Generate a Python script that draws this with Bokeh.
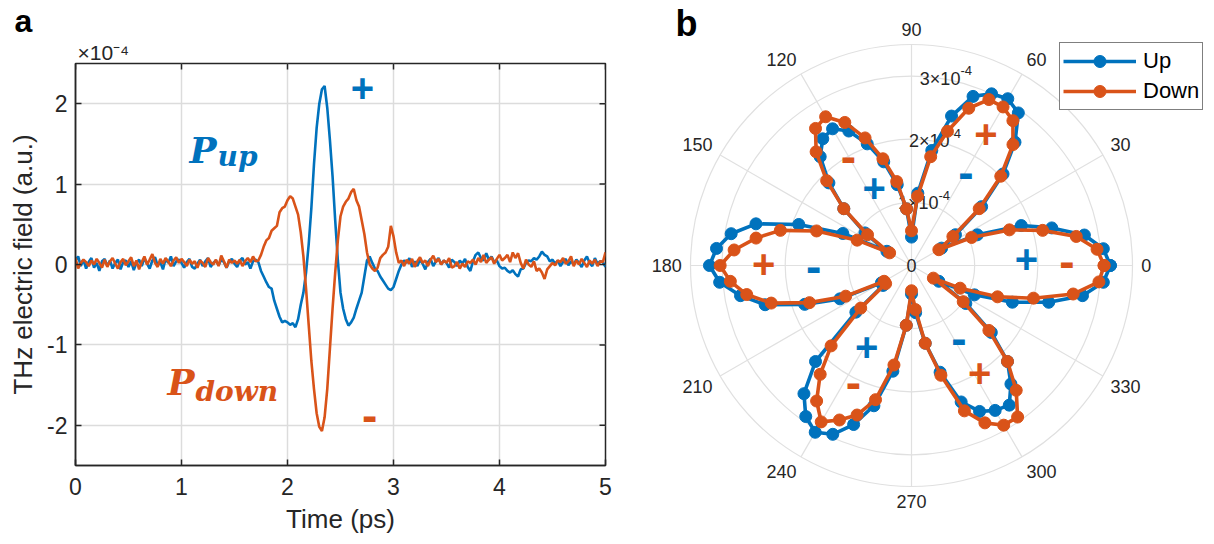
import numpy as np
from bokeh.plotting import figure
from bokeh.layouts import row
from bokeh.models import Label, FixedTicker, Legend, LegendItem, Range1d, Title
from bokeh.embed import file_html
from bokeh.resources import INLINE
from bokeh.core.properties import value

BLUE = "#0072BD"
ORANGE = "#D95319"
DARK = "#262626"
GRID = "#dcdcdc"
SANS = "Liberation Sans"
SERIF = "DejaVu Serif"

# ---------------- panel a : THz field (x1e-4) vs time ----------------
time_step_ps = 0.025
up_field = [
    0.05, 0.10, -0.02, 0.06, -0.05, 0.03, 0.08, -0.04, 0.02, -0.08, 0.04, 0.07, -0.02, 0.05, -0.05, 0.02, 0.06, -0.06, 0.03, 0.05,
    -0.03, 0.04, -0.07, 0.02, 0.06, -0.02, 0.08, 0.01, -0.05, 0.05, 0.09, -0.01, 0.03, -0.06, 0.07, 0.02, 0.10, -0.02, 0.04, 0.06,
    0.02, -0.04, 0.03, 0.07, -0.03, -0.05, 0.01, 0.06, -0.02, 0.04, 0.08, -0.03, 0.02, 0.05, -0.01, 0.06, 0.03, -0.04, 0.04, 0.07,
    0.01, -0.03, 0.05, 0.08, 0.00, 0.03, -0.05, 0.04, 0.06, 0.03, -0.08, -0.15, -0.22, -0.28, -0.30, -0.45, -0.55, -0.65, -0.72, -0.70,
    -0.72, -0.75, -0.73, -0.78, -0.68, -0.50, -0.35, -0.10, 0.25, 0.70, 1.25, 1.70, 2.00, 2.18, 2.22, 1.95, 1.55, 1.10, 0.55, 0.05,
    -0.35, -0.55, -0.68, -0.76, -0.72, -0.66, -0.55, -0.45, -0.35, -0.15, 0.05, 0.10, 0.02, -0.05, -0.08, -0.15, -0.20, -0.25, -0.30, -0.32,
    -0.28, -0.18, -0.08, 0.00, 0.05, 0.02, 0.08, -0.03, 0.04, -0.02, 0.06, 0.01, -0.06, 0.03, 0.07, -0.02, 0.04, 0.08, 0.00, 0.05,
    0.02, -0.04, 0.06, 0.03, -0.02, 0.05, 0.01, 0.07, -0.03, -0.08, 0.04, 0.12, 0.15, 0.08, 0.05, 0.14, 0.06, 0.10, 0.03, 0.05,
    -0.02, -0.05, -0.04, -0.08, -0.10, -0.07, -0.12, -0.15, -0.06, -0.05, 0.02, 0.05, 0.04, 0.08, 0.06, 0.10, 0.16, 0.12, 0.10, 0.04,
    0.06, 0.01, 0.05, -0.02, 0.03, 0.07, -0.01, 0.04, 0.00, 0.06, 0.02, -0.03, 0.05, 0.10, 0.02, -0.02, 0.08, 0.01, 0.04, 0.03,
    -0.03,
]
down_field = [
    0.08, -0.05, 0.02, 0.06, 0.03, -0.02, 0.05, 0.00, 0.07, 0.02, -0.04, 0.06, -0.03, 0.04, 0.08, 0.01, -0.05, 0.03, 0.07, -0.01,
    0.04, 0.09, -0.02, 0.05, -0.06, 0.03, 0.10, 0.00, 0.06, 0.13, 0.02, -0.03, 0.07, 0.01, 0.08, 0.04, -0.02, 0.05, 0.09, 0.02,
    0.07, 0.03, -0.02, 0.06, 0.01, 0.04, -0.04, 0.05, 0.02, -0.03, 0.08, 0.03, 0.00, 0.06, -0.02, 0.11, 0.04, -0.04, 0.06, 0.02,
    0.05, 0.01, 0.06, -0.02, 0.04, 0.08, 0.03, 0.10, 0.04, 0.05, 0.12, 0.22, 0.30, 0.33, 0.42, 0.45, 0.48, 0.65, 0.70, 0.72,
    0.80, 0.85, 0.82, 0.72, 0.62, 0.40, 0.10, -0.30, -0.75, -1.20, -1.55, -1.85, -2.02, -2.07, -1.90, -1.55, -1.05, -0.55, -0.10, 0.30,
    0.60, 0.72, 0.78, 0.82, 0.90, 0.94, 0.80, 0.72, 0.55, 0.38, 0.15, 0.00, -0.05, -0.08, -0.04, 0.08, 0.12, 0.15, 0.22, 0.48,
    0.35, 0.15, 0.02, 0.05, -0.02, 0.06, 0.01, 0.07, -0.03, 0.04, 0.09, 0.02, 0.05, -0.02, 0.06, 0.11, 0.03, 0.07, 0.00, 0.05,
    0.02, 0.08, -0.04, -0.02, 0.03, -0.05, 0.01, -0.03, 0.04, 0.02, 0.06, 0.00, 0.08, 0.03, 0.12, 0.02, 0.06, 0.09, 0.01, 0.07,
    0.12, 0.05, 0.08, 0.12, 0.03, 0.15, 0.08, 0.14, 0.02, -0.05, 0.06, 0.00, -0.03, 0.04, -0.08, -0.05, -0.10, -0.18, -0.06, -0.02,
    0.02, -0.01, 0.05, 0.03, 0.08, 0.01, 0.04, 0.10, -0.02, 0.05, 0.00, 0.07, 0.02, -0.03, 0.05, 0.01, 0.06, -0.02, 0.04, 0.03,
    0.15,
]
x_ticks = [0, 1, 2, 3, 4, 5]
y_ticks = [-2, -1, 0, 1, 2]
y_tick_labels = {-2: "-2", -1: "-1", 0: "0", 1: "1", 2: "2"}

# ---------------- panel b : polar amplitude (x1e-4) vs angle ----------------
angle_deg = list(range(0, 360, 5))
up_amp = [
    3.15, 3.05, 2.78, 2.30, 1.85, 1.15,
    0.55, 0.85, 1.45, 2.05, 2.55, 2.95,
    3.05, 3.00, 2.85, 2.45, 1.85, 1.15,
    0.45, 0.90, 1.30, 1.70, 2.05, 2.35,
    2.50, 2.45, 2.25, 1.85, 1.40, 0.90,
    0.45, 1.20, 1.90, 2.55, 2.90, 3.10,
    3.20, 3.05, 2.75, 2.40, 1.80, 1.25,
    0.55, 0.55, 1.15, 2.15, 2.65, 2.92,
    3.05, 2.95, 2.68, 2.30, 1.70, 0.95,
    0.45, 0.75, 1.25, 1.75, 2.30, 2.55,
    2.65, 2.70, 2.45, 2.15, 1.65, 1.05,
    0.50, 1.10, 1.70, 2.25, 2.75, 3.05,
]
down_amp = [
    3.05, 2.95, 2.65, 2.15, 1.65, 1.05,
    0.50, 0.80, 1.40, 2.00, 2.50, 2.80,
    2.90, 2.90, 2.65, 2.20, 1.75, 1.10,
    0.55, 0.90, 1.35, 1.75, 2.15, 2.50,
    2.72, 2.65, 2.35, 1.90, 1.40, 0.85,
    0.40, 0.95, 1.60, 2.15, 2.50, 2.82,
    3.03, 2.88, 2.65, 2.30, 1.72, 1.15,
    0.50, 0.50, 1.05, 1.80, 2.25, 2.62,
    2.86, 2.70, 2.52, 2.20, 1.60, 0.95,
    0.40, 0.70, 1.25, 1.80, 2.45, 2.75,
    2.92, 2.93, 2.58, 2.15, 1.60, 1.00,
    0.40, 0.85, 1.45, 2.00, 2.60, 2.98,
]
angle_ticks = list(range(0, 360, 30))
r_ticks = [1, 2, 3]
r_max = 3.5

# ======================= panel a =======================
t = np.arange(len(up_field)) * time_step_ps

W1, H = 640, 544
FL, FT, FW, FH = 75, 62, 530, 402
p1 = figure(width=W1, height=H, frame_width=FW, frame_height=FH,
            x_range=Range1d(0, 5), y_range=Range1d(-2.5, 2.5),
            output_backend="svg", toolbar_location=None,
            min_border_left=FL, min_border_right=W1 - FL - FW, min_border_top=FT,
            min_border_bottom=H - FT - FH)
p1.frame_align = False

# panel letter (outermost title) and exponent (title next to the frame)
p1.title.text = "a"
p1.title.text_font = SANS
p1.title.text_font_size = "32px"
p1.title.text_font_style = "bold"
p1.title.text_color = "black"
p1.title.align = "left"
p1.title.offset = 14 - FL
p1.title.standoff = 0
p1.add_layout(Title(text="\u00d710\u207b\u2074", text_font=SANS, text_font_size="21px",
                    text_font_style="normal", text_color=DARK, align="left", offset=2,
                    standoff=0), "above")

p1.line(t, up_field, color=BLUE, line_width=2.6)
p1.line(t, down_field, color=ORANGE, line_width=2.6)

# mirrored inward ticks on top and right edges
p1.scatter(x=x_ticks, y=[2.5] * len(x_ticks), marker="dash", angle=np.pi / 2, size=12,
           line_color=DARK, line_width=1.5)
p1.scatter(x=[5] * len(y_ticks), y=y_ticks, marker="dash", size=12, line_color=DARK, line_width=1.5)

p1.xaxis.ticker = FixedTicker(ticks=x_ticks)
p1.yaxis.ticker = FixedTicker(ticks=y_ticks)
p1.yaxis.major_label_overrides = y_tick_labels
for ax in list(p1.xaxis) + list(p1.yaxis):
    ax.major_tick_in = 6
    ax.major_tick_out = 0
    ax.minor_tick_line_color = None
    ax.major_tick_line_color = DARK
    ax.major_tick_line_width = 1.5
    ax.axis_line_color = DARK
    ax.axis_line_width = 1.5
    ax.major_label_text_font = SANS
    ax.major_label_text_font_size = "23px"
    ax.major_label_text_color = DARK
    ax.axis_label_text_font = SANS
    ax.axis_label_text_font_size = "26px"
    ax.axis_label_text_font_style = "normal"
    ax.axis_label_text_color = DARK
p1.xaxis.major_label_standoff = 12
p1.xaxis.axis_label = "Time (ps)"
p1.xaxis.axis_label_standoff = 6
p1.yaxis.major_label_standoff = 8
p1.yaxis.axis_label = "THz electric field (a.u.)"
p1.yaxis.axis_label_standoff = 6

p1.xgrid.ticker = FixedTicker(ticks=x_ticks)
p1.ygrid.ticker = FixedTicker(ticks=y_ticks)
p1.grid.grid_line_color = GRID
p1.grid.grid_line_width = 1.5
p1.outline_line_color = DARK
p1.outline_line_width = 1.5


def lab(p, x, y, text, size, color=DARK, font=SANS, style="normal", align="left", baseline="alphabetic"):
    p.add_layout(Label(x=x, y=y, text=text, text_font=font, text_font_size=size,
                       text_font_style=style, text_color=color, text_align=align,
                       text_baseline=baseline))


lab(p1, 1.075, 1.43, "P", "36px", color=BLUE, font=SERIF, style="bold italic")
lab(p1, 1.34, 1.34, "up", "28px", color=BLUE, font=SERIF, style="bold italic")
lab(p1, 0.868, -1.46, "P", "36px", color=ORANGE, font=SERIF, style="bold italic")
lab(p1, 1.132, -1.58, "down", "28px", color=ORANGE, font=SERIF, style="bold italic")
lab(p1, 2.708, 2.19, "+", "40px", color=BLUE, style="bold", align="center", baseline="middle")
lab(p1, 2.774, -1.87, "-", "46px", color=ORANGE, style="bold", align="center", baseline="middle")

# ======================= panel b =======================
S = 63.14
W2 = 1214 - W1
cx, cy = 911 - W1, 265
p2 = figure(width=W2, height=H, frame_width=W2, frame_height=H,
            x_range=Range1d(-cx / S, (W2 - cx) / S), y_range=Range1d(-(H - cy) / S, cy / S),
            output_backend="svg", toolbar_location=None,
            x_axis_location=None, y_axis_location=None,
            min_border_left=0, min_border_right=0, min_border_top=0, min_border_bottom=0)
p2.frame_align = False
p2.outline_line_color = None
p2.grid.visible = False

grid_r = r_ticks + [r_max]
p2.circle(x=[0] * len(grid_r), y=[0] * len(grid_r), radius=grid_r,
          fill_color=None, line_color="#e0e0e0", line_width=1.2)
ta = np.deg2rad(angle_ticks)
p2.segment(x0=np.zeros(len(ta)), y0=np.zeros(len(ta)), x1=r_max * np.cos(ta), y1=r_max * np.sin(ta),
           line_color="#e0e0e0", line_width=1.2)

# angle labels
r_lab = 3.64
for a in angle_ticks:
    ar = np.deg2rad(a)
    c, s = np.cos(ar), np.sin(ar)
    align = "left" if c > 0.1 else ("right" if c < -0.1 else "center")
    base = "bottom" if s > 0.1 else ("top" if s < -0.1 else "middle")
    p2.text(x=[r_lab * c], y=[r_lab * s], text=[str(a)], text_font=value(SANS), text_font_size="18px",
            text_color=DARK, text_align=align, text_baseline=base)

# radial tick labels at 80 deg
ra = np.deg2rad(80)
p2.text(x=[0], y=[0], text=["0"], text_font=value(SANS), text_font_size="18px",
        text_color=DARK, text_align="center", text_baseline="middle")
for rv in r_ticks:
    p2.text(x=[rv * np.cos(ra)], y=[rv * np.sin(ra)], text=["%d\u00d710" % rv], text_font=value(SANS),
            text_font_size="18px", text_color=DARK, text_align="right", text_baseline="middle", x_offset=16)
    p2.text(x=[rv * np.cos(ra)], y=[rv * np.sin(ra)], text=["-4"], text_font=value(SANS),
            text_font_size="13px", text_color=DARK, text_align="left", text_baseline="middle",
            x_offset=16, y_offset=-8)

th = np.deg2rad(angle_deg + [360])
ru = np.array(up_amp + [up_amp[0]])
rd = np.array(down_amp + [down_amp[0]])
lu = p2.line(ru * np.cos(th), ru * np.sin(th), color=BLUE, line_width=3.6)
su = p2.scatter(ru * np.cos(th), ru * np.sin(th), size=12, color=BLUE)
ld = p2.line(rd * np.cos(th), rd * np.sin(th), color=ORANGE, line_width=3.6)
sd = p2.scatter(rd * np.cos(th), rd * np.sin(th), size=12, color=ORANGE)

signs = [
    (1.18, 2.08, "+", ORANGE), (0.86, 1.48, "-", BLUE),
    (-1.00, 1.73, "-", ORANGE), (-0.59, 1.23, "+", BLUE),
    (1.82, 0.11, "+", BLUE), (2.46, 0.07, "-", ORANGE),
    (-2.34, 0.03, "+", ORANGE), (-1.55, 0.00, "-", BLUE),
    (-0.71, -1.29, "+", BLUE), (-0.92, -1.84, "-", ORANGE),
    (0.75, -1.15, "-", BLUE), (1.08, -1.70, "+", ORANGE),
]
for sx, sy, txt, col in signs:
    p2.text(x=[sx], y=[sy], text=[txt], text_font=value(SANS), text_font_size="40px" if txt == "+" else "46px",
            text_font_style="bold", text_color=col, text_align="center", text_baseline="middle")

lab(p2, -3.738, 3.84, "b", "36px", color="black", style="bold")

legend = Legend(items=[LegendItem(label="Up", renderers=[lu, su]),
                       LegendItem(label="Down", renderers=[ld, sd])],
                location=(1059 - W1, H - 110))
legend.label_text_font = SANS
legend.label_text_font_size = "22px"
legend.label_text_color = "black"
legend.glyph_width = 73
legend.glyph_height = 30
legend.label_height = 30
legend.spacing = 0
legend.padding = 3
legend.margin = 0
legend.label_standoff = 7
legend.border_line_color = "black"
legend.border_line_width = 1.2
legend.background_fill_alpha = 1.0
p2.add_layout(legend)

layout = row(p1, p2)
open("out.html", "w").write(file_html(layout, INLINE))
